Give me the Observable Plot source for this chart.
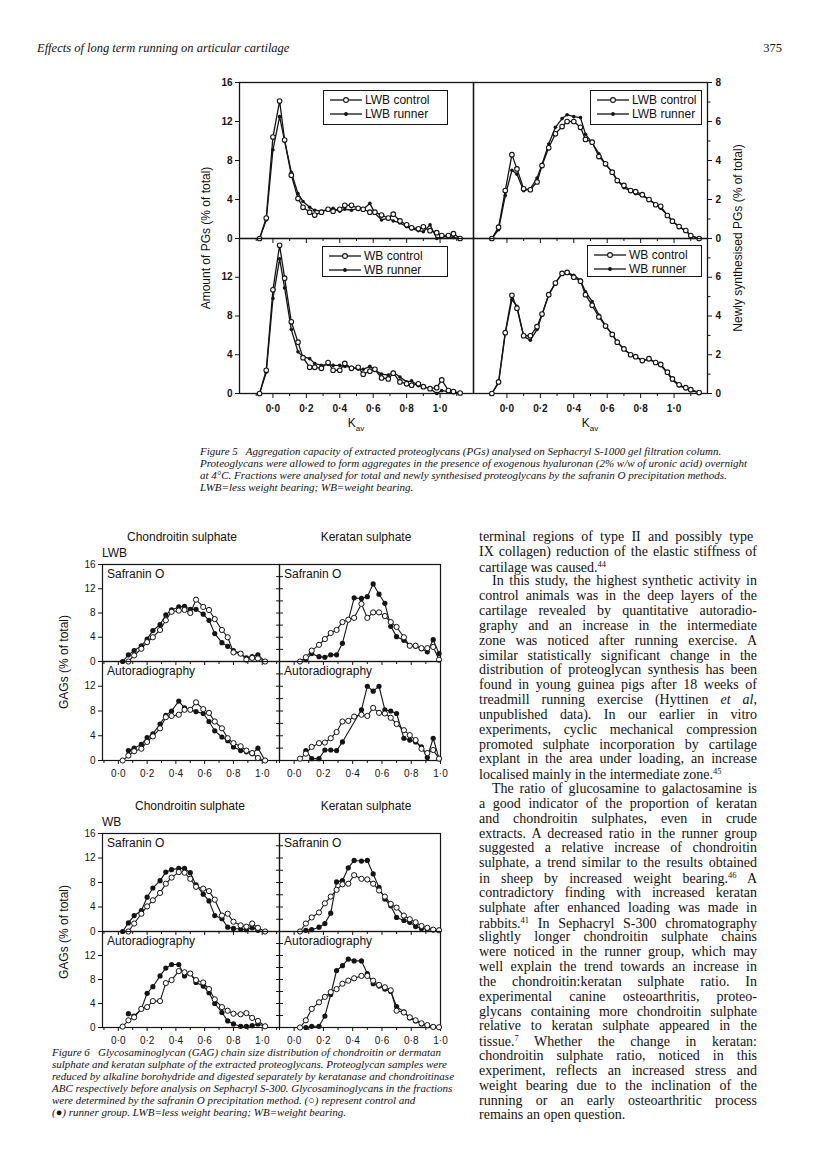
<!DOCTYPE html>
<html><head><meta charset="utf-8">
<script src="https://cdn.jsdelivr.net/npm/d3@7"></script>
<script src="https://cdn.jsdelivr.net/npm/@observablehq/plot@0.6"></script>
<style>
body{margin:0;background:#fff;}
#page{position:relative;width:816px;height:1168px;overflow:hidden;background:#fff;color:#111;}
.abs{position:absolute;white-space:nowrap;}
.sans{font-family:"Liberation Sans",Arial,sans-serif;}
.serif{font-family:"Liberation Serif","Times New Roman",serif;}
.it{font-style:italic;}
svg{overflow:visible;}
</style></head>
<body><div id="page"></div>
<script>
// ---------- Figure 5 data ----------
const f5KavLeft = [-0.08,-0.04,0.00,0.04,0.07,0.11,0.15,0.18,0.22,0.25,0.29,0.33,0.36,0.40,0.43,0.47,0.51,0.54,0.58,0.61,0.65,0.69,0.72,0.76,0.80,0.83,0.87,0.90,0.94,0.98,1.01,1.05,1.08,1.12];
const f5KavRight = [-0.09,-0.05,-0.01,0.03,0.06,0.10,0.14,0.18,0.21,0.25,0.29,0.33,0.36,0.40,0.44,0.47,0.51,0.55,0.59,0.63,0.66,0.70,0.74,0.77,0.81,0.85,0.89,0.92,0.96,0.99,1.03,1.07,1.10,1.15];
const lwbTotalControl = [0,2.1,10.4,14.1,10.1,6.5,4.1,3.2,2.7,2.4,2.7,3.0,2.8,3.0,3.4,3.4,3.1,3.0,2.7,2.7,2.4,2.1,2.5,1.8,1.4,1.1,1.0,1.2,0.8,0.6,0.3,0.3,0.5,0.0];
const lwbTotalRunner  = [0,1.9,9.1,12.5,10.0,6.8,4.6,3.8,3.2,2.9,2.8,3.0,3.1,2.8,3.0,2.9,3.1,3.0,3.6,2.6,1.9,2.1,1.8,1.6,1.2,1.0,0.8,0.7,1.4,0.0,0.2,0.2,0.1,0.0];
const wbTotalControl  = [0,2.4,10.7,15.3,11.9,7.4,5.3,3.7,2.7,2.7,2.6,3.2,2.4,2.4,3.1,2.6,2.7,2.0,2.3,2.5,1.6,1.5,2.1,1.2,1.0,0.85,1.0,0.7,0.5,0.6,1.4,0.3,0.2,0.05];
const wbTotalRunner   = [0,2.2,9.8,13.9,10.9,6.6,4.3,3.8,3.6,3.1,2.9,3.0,2.9,2.9,2.8,2.7,2.5,2.5,2.8,2.4,2.0,1.9,2.2,1.7,1.2,1.3,0.8,0.7,0.5,0.0,0.3,0.2,0.1,0.0];
const lwbNewControl = [0,0.58,2.46,4.3,3.57,2.55,2.5,2.9,3.74,4.65,5.37,5.74,6.0,6.0,5.7,5.08,4.94,4.2,3.83,3.4,2.97,2.72,2.46,2.4,2.25,2.0,1.73,1.65,1.18,0.89,0.61,0.41,0.15,0];
const lwbNewRunner  = [0,0.45,2.2,3.5,3.3,2.45,2.55,3.1,3.8,4.85,5.7,6.15,6.35,6.25,6.2,5.35,4.9,4.35,3.8,3.4,3.0,2.6,2.45,2.3,2.2,2.0,1.75,1.55,1.2,0.9,0.6,0.38,0.15,0];
const wbNewControl  = [0,0.6,3.14,5.07,4.4,2.98,2.98,3.45,4.1,5.1,5.7,6.2,6.25,6.0,5.8,5.1,4.55,3.95,3.48,3.05,2.65,2.3,2.0,1.9,1.7,1.8,1.6,1.5,1.1,0.75,0.45,0.3,0.2,0.05];
const wbNewRunner   = [0,0.55,3.1,4.85,4.5,2.95,2.75,3.3,4.05,5.1,5.7,6.2,6.25,6.1,5.85,5.25,4.75,4.05,3.5,3.05,2.65,2.3,2.0,1.9,1.7,1.75,1.6,1.45,1.05,0.7,0.4,0.25,0.15,0.05];
const f5XDomain = [-0.2, 1.2];
const f5XTicks = [0,0.2,0.4,0.6,0.8,1.0];
const f5XMinor = [-0.1,0.1,0.3,0.5,0.7,0.9,1.1];
const f5LeftTicksTop = [0,4,8,12,16];
const f5LeftTicksBottom = [0,4,8,12];
const f5RightTicksTop = [0,2,4,6,8];
const f5RightTicksBottom = [0,2,4,6];
const f5RightMinor = [1,3,5,7];
const f5Legends = [["LWB control","LWB runner"],["WB control","WB runner"]];

// ---------- Figure 6 data ----------
const f6KavCS = [0.03,0.07,0.11,0.16,0.20,0.24,0.29,0.33,0.37,0.42,0.46,0.50,0.54,0.59,0.63,0.67,0.72,0.76,0.80,0.85,0.89,0.93,0.97,1.02];
const f6KavKS = [0.04,0.08,0.12,0.17,0.21,0.25,0.29,0.33,0.37,0.41,0.46,0.50,0.54,0.58,0.62,0.66,0.70,0.75,0.79,0.83,0.87,0.91,0.95,0.99];
const lwbCSSafControl  = [null,0,1.0,2.1,3.2,4.0,5.2,6.8,8.2,8.4,8.5,8.0,10.2,9.0,8.5,7.0,5.2,4.0,1.5,1.3,0.3,0.6,0.5,0];
const lwbCSSafRunner   = [0,1.1,1.8,2.6,3.7,5.1,6.1,7.7,8.5,9.0,9.1,8.6,8.6,7.8,6.8,4.6,3.1,2.5,1.8,1.3,0.6,0.8,1.1,0];
const lwbCSAutoControl = [0,0.8,1.5,1.9,3.0,3.9,5.2,7.0,7.2,7.4,8.2,8.2,9.4,8.3,7.7,6.3,5.2,3.6,2.8,2.3,1.6,1.2,0.4,0];
const lwbCSAutoRunner  = [null,1.6,2.0,2.6,3.7,4.3,5.9,7.3,8.0,9.6,8.5,8.2,7.9,7.6,6.3,4.8,3.8,3.2,2.2,1.6,1.4,1.1,2.0,0];
const lwbKSSafControl  = [0,0.7,1.8,2.75,3.7,4.7,5.2,6.5,6.9,7.2,9.5,7.2,8.1,8.1,7.5,6.5,5.7,4.0,2.6,2.6,2.2,2.2,2.4,0.3];
const lwbKSSafRunner   = [null,0.3,1.3,0.8,0.7,1.1,1.1,3.0,null,10.5,10.4,10.7,12.8,11.1,9.6,5.8,4.1,3.5,2.6,2.5,2.1,1.6,3.6,1.3];
const lwbKSAutoControl = [0.3,1.1,2.2,2.8,2.9,3.6,4.6,6.3,6.4,7.1,7.4,7.2,8.5,7.7,7.6,6.9,5.9,4.9,4.1,3.3,1.9,1.2,1.7,0.3];
const lwbKSAutoRunner  = [null,1.6,0.3,0.3,1.7,1.7,1.6,3.0,null,null,8.2,12.0,11.2,12.0,8.2,8.0,7.6,3.6,3.3,3.0,2.2,0.5,3.6,0.3];
const wbCSSafControl   = [null,0,1.3,2.9,4.1,5.1,6.3,7.8,8.8,9.7,9.6,8.6,7.3,7.0,6.6,5.2,2.6,2.9,1.6,1.0,0.8,1.3,0.6,0];
const wbCSSafRunner    = [0,1.4,2.6,3.4,5.6,7.1,8.3,9.7,10.1,10.3,10.3,9.6,7.6,6.1,5.0,2.6,2.1,0.7,0.5,0.4,0.3,0.6,0.2,null];
const wbCSAutoControl  = [0.15,1.2,1.7,3.1,3.4,4.4,4.4,7.4,7.9,9.4,9.2,9.0,7.9,7.5,6.4,4.7,3.4,2.8,2.3,2.2,2.4,1.6,1.1,0.2];
const wbCSAutoRunner   = [null,2.3,1.9,3.1,5.7,6.8,8.6,9.9,10.5,10.5,8.6,9.0,7.5,6.9,5.8,4.0,2.5,1.1,0.6,0.2,0.2,0.3,0.6,0.2];
const wbKSSafControl   = [0,1.3,2.3,3.1,4.6,5.7,6.8,7.7,7.8,9.2,8.6,8.5,7.8,6.7,5.7,4.5,3.9,2.6,2.0,1.5,0.9,0.6,0.3,0.2];
const wbKSSafRunner    = [null,0.2,0.3,0.7,1.3,3.0,8.1,8.3,10.4,11.6,11.5,11.6,9.4,7.2,5.3,4.2,2.3,1.8,1.5,0.8,0.5,0.4,0.3,0.2];
const wbKSAutoControl  = [0,1.2,3.1,4.2,5.1,5.9,6.4,7.3,7.8,8.2,8.6,8.6,7.8,7.1,6.7,6.2,2.8,2.5,1.7,1.2,0.7,0.4,0.1,0.05];
const wbKSAutoRunner   = [null,0,0.2,0.2,1.9,5.5,9.5,10.3,11.4,11.1,11.1,9.0,7.3,6.9,6.4,6.0,3.5,2.6,1.6,1.1,0.6,0.3,0.1,null];
const f6DomainCS = [-0.11, 1.12];
const f6DomainKS = [-0.10, 1.00];
const f6XTicks = [0,0.2,0.4,0.6,0.8,1.0];
const f6XMinor = [-0.1,0.1,0.3,0.5,0.7,0.9,1.1];
const f6YTicksTop = [0,4,8,12,16];
const f6YTicksBottom = [0,4,8,12];
const f6InnerTicks = [2,4,6,8,10,12,14];

// ---------- Text ----------
const headerTitle = "Effects of long term running on articular cartilage";
const pageNumber = "375";
const fig5Caption = [
 "Figure 5&nbsp;&nbsp; Aggregation capacity of extracted proteoglycans (PGs) analysed on Sephacryl S-1000 gel filtration column.",
 "Proteoglycans were allowed to form aggregates in the presence of exogenous hyaluronan (2% w/w of uronic acid) overnight",
 "at 4°C. Fractions were analysed for total and newly synthesised proteoglycans by the safranin O precipitation methods.",
 "LWB=less weight bearing; WB=weight bearing."
];
const fig6Caption = [
 "Figure 6&nbsp;&nbsp; Glycosaminoglycan (GAG) chain size distribution of chondroitin or dermatan",
 "sulphate and keratan sulphate of the extracted proteoglycans. Proteoglycan samples were",
 "reduced by alkaline borohydride and digested separately by keratanase and chondroitinase",
 "ABC respectively before analysis on Sephacryl S-300. Glycosaminoglycans in the fractions",
 "were determined by the safranin O precipitation method. (○) represent control and",
 "(●) runner group. LWB=less weight bearing; WB=weight bearing."
];
// [text, indent, justified]
const columnLines = [
 ["terminal regions of type II  and possibly type",0,1],
 ["IX collagen) reduction of the elastic stiffness of",0,1],
 ["cartilage was caused.<sup>44</sup>",0,0],
 ["In this study, the highest synthetic activity in",1,1],
 ["control animals was in the deep layers of the",0,1],
 ["cartilage revealed by quantitative autoradio-",0,1],
 ["graphy and an increase in the intermediate",0,1],
 ["zone was noticed after running exercise. A",0,1],
 ["similar statistically significant change in the",0,1],
 ["distribution of proteoglycan synthesis has been",0,1],
 ["found in young guinea pigs after 18 weeks of",0,1],
 ["treadmill running exercise (Hyttinen <i>et al</i>,",0,1],
 ["unpublished data). In our earlier in vitro",0,1],
 ["experiments, cyclic mechanical compression",0,1],
 ["promoted sulphate incorporation by cartilage",0,1],
 ["explant in the area under loading, an increase",0,1],
 ["localised mainly in the intermediate zone.<sup>45</sup>",0,0],
 ["The ratio of glucosamine to galactosamine is",1,1],
 ["a good indicator of the proportion of keratan",0,1],
 ["and chondroitin sulphates, even in crude",0,1],
 ["extracts. A decreased ratio in the runner group",0,1],
 ["suggested a relative increase of chondroitin",0,1],
 ["sulphate, a trend similar to the results obtained",0,1],
 ["in sheep by increased weight bearing.<sup>46</sup> A",0,1],
 ["contradictory finding with increased keratan",0,1],
 ["sulphate after enhanced loading was made in",0,1],
 ["rabbits.<sup>41</sup> In Sephacryl S-300 chromatography",0,1],
 ["slightly longer chondroitin sulphate chains",0,1],
 ["were noticed in the runner group, which may",0,1],
 ["well explain the trend towards an increase in",0,1],
 ["the chondroitin:keratan sulphate ratio. In",0,1],
 ["experimental canine osteoarthritis, proteo-",0,1],
 ["glycans containing more chondroitin sulphate",0,1],
 ["relative to keratan sulphate appeared in the",0,1],
 ["tissue.<sup>7</sup> Whether the change in keratan:",0,1],
 ["chondroitin sulphate ratio, noticed in this",0,1],
 ["experiment, reflects an increased stress and",0,1],
 ["weight bearing due to the inclination of the",0,1],
 ["running or an early osteoarthritic process",0,1],
 ["remains an open question.",0,0]
];

// ---------- helpers ----------
const ink = "#141414";
const page = document.getElementById("page");
const fmt = d => d.toFixed(1).replace(".", "\u00b7");
const blank = () => "";
function series(kav, vals){ return kav.map((k,i)=>({k, v: vals[i]})).filter(d => d.v != null); }
function place(el, left, top){ el.style.position="absolute"; el.style.left=left+"px"; el.style.top=top+"px"; page.appendChild(el); return el; }
function text(html, x, y, cls, size, anchor="left", rotate=0){
  const d = document.createElement("div");
  d.className = "abs " + cls;
  d.innerHTML = html;
  d.style.fontSize = size + "px";
  d.style.lineHeight = "1";
  const tx = anchor==="center" ? "-50%" : anchor==="right" ? "-100%" : "0";
  d.style.transform = `translate(${tx},-50%)` + (rotate ? ` rotate(${rotate}deg)` : "");
  d.style.transformOrigin = "center center";
  place(d, x, y);
  return d;
}
const plotStyle = {fontFamily:"'Liberation Sans', Arial, sans-serif", fontSize:"10px", color:ink, background:"transparent", overflow:"visible"};

// ---------- Figure 5 ----------
function fig5Panel(o){
  const ml=45, mr=45, mt=6, mb=28;
  const c = series(o.kav, o.control), r = series(o.kav, o.runner);
  const yAxis = o.side === "left"
    ? [Plot.axisY({anchor:"left", ticks:o.yTicks, tickSize:4, tickPadding:3, tickFormat:d=>String(d), label:null, fontWeight:"bold"})]
    : [Plot.axisY({anchor:"right", ticks:o.yTicks, tickSize:4, tickPadding:4, tickFormat:d=>String(d), label:null, fontWeight:"bold"}),
       Plot.axisY({anchor:"right", ticks:f5RightMinor, tickSize:2.5, tickFormat:blank, label:null})];
  const svg = Plot.plot({
    width:o.w+ml+mr, height:o.h+mt+mb, marginLeft:ml, marginRight:mr, marginTop:mt, marginBottom:mb,
    x:{domain:f5XDomain}, y:{domain:[0,o.yMax]}, style:plotStyle,
    marks:[
      ...yAxis,
      Plot.axisX({anchor:"bottom", ticks:f5XTicks, tickSize:5, tickPadding:6, tickFormat:o.xLabels ? fmt : blank, label:null, fontWeight:"bold"}),
      Plot.axisX({anchor:"bottom", ticks:f5XMinor, tickSize:3, tickFormat:blank, label:null}),
      Plot.frame({stroke:ink, strokeWidth:1.3}),
      Plot.line(r, {x:"k", y:"v", stroke:ink, strokeWidth:1.3}),
      Plot.line(c, {x:"k", y:"v", stroke:ink, strokeWidth:1.3}),
      Plot.dot(r, {x:"k", y:"v", r:1.8, fill:ink}),
      Plot.dot(c, {x:"k", y:"v", r:2.3, fill:"white", stroke:ink, strokeWidth:1.1})
    ]
  });
  place(svg, o.left-ml, o.top-mt);
}
function fig5Legend(left, top, w, h, labels){
  const box = document.createElement("div");
  box.style.cssText = `width:${w}px;height:${h}px;border:1.3px solid ${ink};box-sizing:border-box;background:#fff;`;
  place(box, left, top);
  labels.forEach((lab, i) => {
    const cy = top + (i===0 ? 10 : 24);
    const sw = document.createElementNS("http://www.w3.org/2000/svg","svg");
    sw.setAttribute("width","34"); sw.setAttribute("height","8");
    sw.innerHTML = `<line x1="1" y1="4" x2="33" y2="4" stroke="${ink}" stroke-width="1.3"/>` +
      (i===0 ? `<circle cx="17" cy="4" r="2.4" fill="white" stroke="${ink}" stroke-width="1.1"/>`
             : `<circle cx="17" cy="4" r="1.9" fill="${ink}"/>`);
    place(sw, left+6, cy-4);
    text(lab, left+42, cy, "sans", 12);
  });
}
fig5Panel({kav:f5KavLeft, control:lwbTotalControl, runner:lwbTotalRunner, yMax:16, side:"left", yTicks:f5LeftTicksTop, xLabels:false, left:239, top:82, w:234, h:156});
fig5Panel({kav:f5KavRight, control:lwbNewControl, runner:lwbNewRunner, yMax:8, side:"right", yTicks:f5RightTicksTop, xLabels:false, left:473, top:82, w:234, h:156});
fig5Panel({kav:f5KavLeft, control:wbTotalControl, runner:wbTotalRunner, yMax:16, side:"left", yTicks:f5LeftTicksBottom, xLabels:true, left:239, top:238, w:234, h:155});
fig5Panel({kav:f5KavRight, control:wbNewControl, runner:wbNewRunner, yMax:8, side:"right", yTicks:f5RightTicksBottom, xLabels:true, left:473, top:238, w:234, h:155});
fig5Legend(323, 90, 125, 35, f5Legends[0]);
fig5Legend(590, 90, 112, 35, f5Legends[0]);
fig5Legend(322, 246, 126, 31, f5Legends[1]);
fig5Legend(587, 245, 115, 32, f5Legends[1]);
text("Amount of PGs (% of total)", 206, 238, "sans", 12, "center", -90);
text("Newly synthesised PGs (% of total)", 738, 238, "sans", 12, "center", -90);
text("K<sub style='font-size:8px'>av</sub>", 356, 425, "sans", 12, "center");
text("K<sub style='font-size:8px'>av</sub>", 590, 425, "sans", 12, "center");

// ---------- Figure 6 ----------
function fig6Panel(o){
  const ml=30, mr=10, mt=6, mb=22;
  const c = series(o.kav, o.control), r = series(o.kav, o.runner);
  const marks = [];
  if (o.isCS){
    marks.push(Plot.axisY({anchor:"left", ticks:o.yTicks, tickSize:4, tickPadding:3, tickFormat:d=>String(d), label:null}));
    marks.push(Plot.axisY({anchor:"right", ticks:f6InnerTicks, tickSize:3, tickFormat:blank, label:null}));
  } else {
    marks.push(Plot.axisY({anchor:"left", ticks:f6InnerTicks, tickSize:3, tickFormat:blank, label:null}));
  }
  marks.push(
    Plot.axisX({anchor:"bottom", ticks:f6XTicks.filter(t=>t<=o.domain[1]), tickSize:4, tickPadding:5, tickFormat:o.xLabels ? fmt : blank, label:null}),
    Plot.axisX({anchor:"bottom", ticks:f6XMinor.filter(t=>t>=o.domain[0] && t<=o.domain[1]), tickSize:3, tickFormat:blank, label:null}),
    Plot.frame({stroke:ink, strokeWidth:1.2}),
    Plot.line(r, {x:"k", y:"v", stroke:ink, strokeWidth:1.1}),
    Plot.line(c, {x:"k", y:"v", stroke:ink, strokeWidth:1.1}),
    Plot.dot(r, {x:"k", y:"v", r:2.6, fill:ink}),
    Plot.dot(c, {x:"k", y:"v", r:2.6, fill:"white", stroke:ink, strokeWidth:1})
  );
  const svg = Plot.plot({
    width:o.w+ml+mr, height:o.h+mt+mb, marginLeft:ml, marginRight:mr, marginTop:mt, marginBottom:mb,
    x:{domain:o.domain}, y:{domain:[0,16]}, style:plotStyle, marks
  });
  place(svg, o.left-ml, o.top-mt);
  text(o.label, o.left+5, o.top+10, "sans", 12);
}
function fig6Block(top, mid, bottom, d, groupLabel, csTitleX){
  fig6Panel({isCS:true, kav:f6KavCS, control:d[0], runner:d[1], domain:f6DomainCS, yTicks:f6YTicksTop, xLabels:false, left:102, top:top, w:177, h:mid-top, label:"Safranin O"});
  fig6Panel({isCS:true, kav:f6KavCS, control:d[2], runner:d[3], domain:f6DomainCS, yTicks:f6YTicksBottom, xLabels:true, left:102, top:mid, w:177, h:bottom-mid, label:"Autoradiography"});
  fig6Panel({isCS:false, kav:f6KavKS, control:d[4], runner:d[5], domain:f6DomainKS, xLabels:false, left:279, top:top, w:161, h:mid-top, label:"Safranin O"});
  fig6Panel({isCS:false, kav:f6KavKS, control:d[6], runner:d[7], domain:f6DomainKS, xLabels:true, left:279, top:mid, w:161, h:bottom-mid, label:"Autoradiography"});
  text("Chondroitin sulphate", csTitleX, top-27, "sans", 12, "center");
  text("Keratan sulphate", 366, top-27, "sans", 12, "center");
  text(groupLabel, 102, top-11, "sans", 12);
  text("GAGs (% of total)", 64, mid+1, "sans", 12, "center", -90);
}
fig6Block(564, 661, 760, [lwbCSSafControl,lwbCSSafRunner,lwbCSAutoControl,lwbCSAutoRunner,lwbKSSafControl,lwbKSSafRunner,lwbKSAutoControl,lwbKSAutoRunner], "LWB", 182);
fig6Block(833, 931, 1027, [wbCSSafControl,wbCSSafRunner,wbCSAutoControl,wbCSAutoRunner,wbKSSafControl,wbKSSafRunner,wbKSAutoControl,wbKSAutoRunner], "WB", 190);

// ---------- Page text ----------
text(headerTitle, 37, 48, "serif it", 12.5);
text(pageNumber, 782, 48, "serif", 12.5, "right");
fig5Caption.forEach((l,i) => text(l, 200, 451 + i*12, "serif it", 11));
fig6Caption.forEach((l,i) => text(l, 52, 1052 + i*12, "serif it", 11));

const colLeft = 479, colWidth = 278, lineStep = 14.83, firstLine = 537, indent = 13;
columnLines.forEach(([html, ind, just], i) => {
  const d = text(html, colLeft + (ind ? indent : 0), firstLine + i*lineStep, "serif", 14);
  d.querySelectorAll("sup").forEach(s => { s.style.fontSize = "8.5px"; s.style.verticalAlign = "5px"; });
  if (just){
    const target = colWidth - (ind ? indent : 0);
    const nat = d.getBoundingClientRect().width;
    const spaces = (d.textContent.match(/ /g) || []).length;
    if (spaces > 0) d.style.wordSpacing = ((target - nat) / spaces) + "px";
  }
});
</script>
</body></html>
